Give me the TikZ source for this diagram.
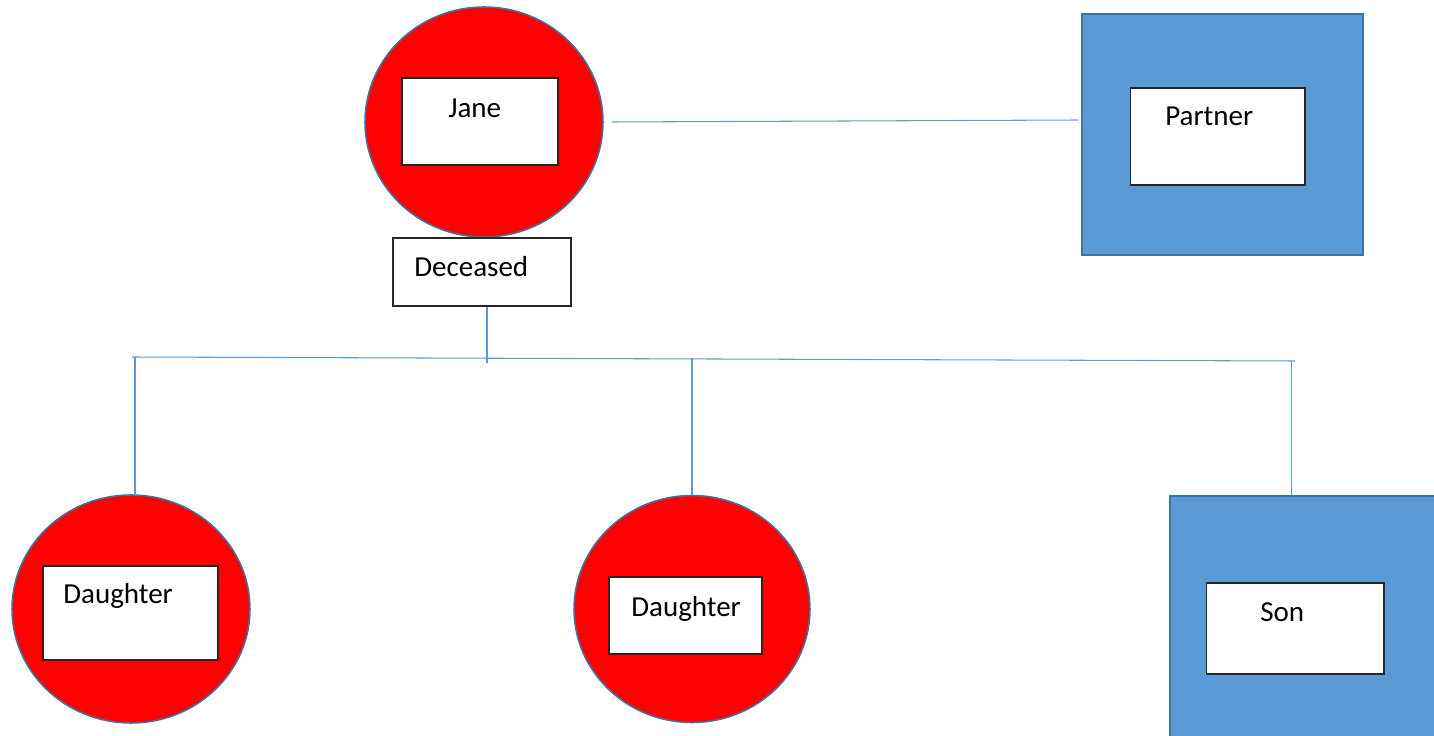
\documentclass[tikz,border=0pt]{standalone}
\usepackage{fontspec}
\setmainfont{Carlito}
\usepackage{tikz}
\usetikzlibrary{shapes.geometric,positioning,calc}

\definecolor{edgeblue}{HTML}{41719C}
\definecolor{fillblue}{HTML}{5B9BD5}

\begin{document}
\begin{tikzpicture}[x=0.02cm,y=-0.02cm]

\tikzset{
  female/.style={ellipse, draw=edgeblue, fill=red, line width=0.9pt, inner sep=0pt},
  male/.style={rectangle, draw=edgeblue, fill=fillblue, line width=0.9pt,
               minimum width=5.62cm, minimum height=4.82cm, inner sep=0pt},
  card/.style={rectangle, draw=black!85, fill=white, line width=0.6pt, inner sep=0pt},
  cardtext/.style={font=\fontsize{16.5}{19}\selectfont, inner sep=0pt, anchor=base west},
  famline/.style={draw=fillblue, line width=0.6pt}
}

% Frame
\useasboundingbox (0,0) rectangle (1434,736);
\clip (0,0) rectangle (1434,736);

% Jane
\node[female, minimum width=4.76cm, minimum height=4.6cm] (jane) at (484,122) {};
\node[card, minimum width=3.12cm, minimum height=1.74cm] (janebox) at (480,121.5) {};
\node[cardtext] (janelbl) at (448,118) {Jane};

\node[card, minimum width=3.56cm, minimum height=1.36cm] (dead) at (482,272) {};
\node[cardtext] (deadlbl) at (414,277) {Deceased};

% Partner
\node[male] (partner) at (1222.5,134.5) {};
\node[card, minimum width=3.5cm, minimum height=1.94cm] (partnerbox) at (1217.5,136.5) {};
\node[cardtext] (partnerlbl) at (1165,126) {Partner};

% Children
\node[female, minimum width=4.76cm, minimum height=4.56cm] (dau1) at (131,609) {};
\node[card, minimum width=3.5cm, minimum height=1.88cm] (dau1box) at (130.5,613) {};
\node[cardtext] (dau1lbl) at (63,603) {Daughter};

\node[female, minimum width=4.72cm, minimum height=4.54cm] (dau2) at (692,609) {};
\node[card, minimum width=3.06cm, minimum height=1.54cm] (dau2box) at (685.5,615.5) {};
\node[cardtext] (dau2lbl) at (631,616) {Daughter};

\node[male] (son) at (1310.5,616.5) {};
\node[card, minimum width=3.56cm, minimum height=1.82cm] (sonbox) at (1295,628.5) {};
\node[cardtext] (sonlbl) at (1260,621) {Son};

% Lines
\coordinate (barL) at (132,357);
\coordinate (barR) at (1295,361);
\coordinate (stem) at (487,363);

\draw[famline] ($(jane.east)+(8,0)$) -- ($(partner.west |- jane.east)+(-3,-2)$);
\draw[famline] (dead.south -| stem) -- (stem);
\draw[famline] (barL) -- (barR);
\draw[famline] ($(dau1.north)+(4,0)$) -- ($(dau1.north |- barL)+(4,0)$);
\draw[famline] (dau2.north) -- ($(dau2.north |- barL)+(0,1)$);
\draw[famline] ($(son.north)+(-19,0)$) -- ($(son.north |- barR)+(-19,0)$);

\end{tikzpicture}
\end{document}
